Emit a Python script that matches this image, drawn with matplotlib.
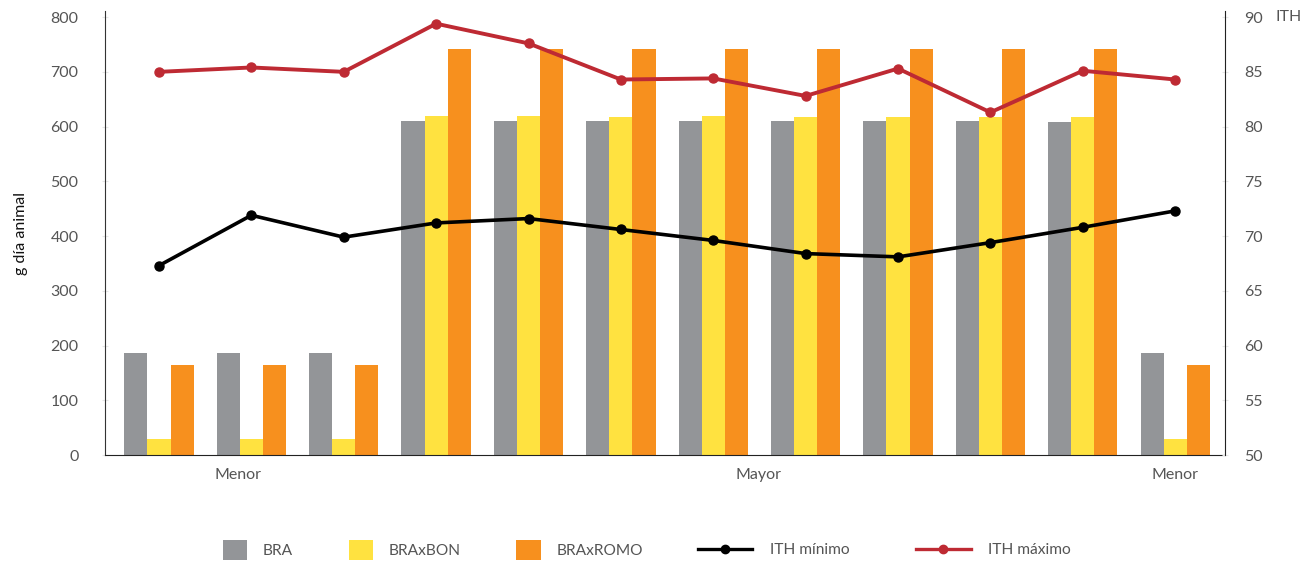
import numpy as np
import matplotlib
matplotlib.use("Agg")
import matplotlib.pyplot as plt
from matplotlib.patches import Rectangle
from matplotlib.lines import Line2D
from matplotlib.legend_handler import HandlerPatch

plt.rcParams['font.family'] = ['Lato', 'DejaVu Sans']

# data
bra = [186, 186, 186, 610, 610, 610, 610, 610, 610, 610, 608, 186]
bra_bon = [30, 30, 30, 619, 619, 617, 619, 617, 617, 617, 617, 30]
bra_romo = [165, 165, 165, 741, 741, 741, 741, 741, 741, 741, 741, 165]
ith_min = [67.3, 71.9, 69.9, 71.2, 71.6, 70.6, 69.6, 68.4, 68.1, 69.4, 70.8, 72.3]
ith_max = [85.0, 85.4, 85.0, 89.4, 87.6, 84.3, 84.4, 82.8, 85.3, 81.3, 85.1, 84.3]
xtick_pos = [0.86, 6.49, 11.0]
xtick_labels = ['Menor', 'Mayor', 'Menor']

c_bra = '#939598'
c_bon = '#FFE240'
c_romo = '#F7901E'
c_max = '#BE2A33'
c_min = '#000000'
txt = '#555555'

fig = plt.figure(figsize=(13.15, 5.63), dpi=100)
ax = fig.add_axes([0.0798, 0.1918, 0.8518, 0.7885])
ax2 = ax.twinx()

x = np.arange(len(bra))
w = 0.25
ax.bar(x - w, bra, w, color=c_bra, label='BRA')
ax.bar(x, bra_bon, w, color=c_bon, label='BRAxBON')
ax.bar(x + w, bra_romo, w, color=c_romo, label='BRAxROMO')

ax2.plot(x, ith_min, color=c_min, lw=2.6, marker='o', ms=6.5, label='ITH mínimo')
ax2.plot(x, ith_max, color=c_max, lw=2.8, marker='o', ms=6.5, label='ITH máximo')

ax.set_xlim(-0.585, 11.54)
ax.set_ylim(0, 811)
ax2.set_ylim(50, 90.55)
ax.set_yticks(range(0, 801, 100))
ax2.set_yticks(range(50, 91, 5))
ax.set_xticks(xtick_pos)
ax.set_xticklabels(xtick_labels)

for a in (ax, ax2):
    for s in a.spines.values():
        s.set_visible(False)
ax.spines['left'].set_visible(True)
ax.spines['bottom'].set_visible(True)
ax2.spines['right'].set_visible(True)
ax.spines['left'].set_color('#333333')
ax.spines['bottom'].set_color('#222222')
ax2.spines['right'].set_color('#222222')

ax.tick_params(axis='y', length=4, direction='inout', color='#e6e6e6', pad=17,
               labelsize=11.5, labelcolor=txt)
ax2.tick_params(axis='y', length=4, direction='inout', color='#e6e6e6', pad=12,
                labelsize=11.5, labelcolor=txt)
ax.tick_params(axis='x', length=0, pad=9, labelsize=11.5, labelcolor=txt)

ax.set_ylabel('g día animal', fontsize=11.5, color='#111111')
ax.yaxis.set_label_coords(-0.069, 0.5)
ax2.text(1.0 + 50 / 1120, 800 / 811, 'ITH', transform=ax2.transAxes,
         ha='left', va='center', fontsize=11.5, color=txt)


def square(legend, orig_handle, xdescent, ydescent, width, height, fontsize):
    return Rectangle((-xdescent, -ydescent), width, height)


bar_handles, bar_labels = ax.get_legend_handles_labels()
fig.legend(bar_handles, bar_labels, loc='center left',
           bbox_to_anchor=(223 / 1315, 1 - 550 / 563), ncol=3,
           frameon=False, fontsize=11.2, handlelength=1.55, handleheight=1.55,
           handletextpad=1.0, columnspacing=3.6, borderpad=0, borderaxespad=0,
           labelcolor=txt,
           handler_map={Rectangle: HandlerPatch(patch_func=square)})

line_handles = [Line2D([], [], color=c_min, lw=2.4, marker='o', ms=6),
                Line2D([], [], color=c_max, lw=2.4, marker='o', ms=6)]
fig.legend(line_handles, ['ITH mínimo', 'ITH máximo'], loc='center left',
           bbox_to_anchor=(698 / 1315, 1 - 550 / 563), ncol=2,
           frameon=False, fontsize=11.2, handlelength=3.5,
           handletextpad=1.1, columnspacing=4.3, borderpad=0, borderaxespad=0,
           labelcolor=txt)

fig.savefig('out.png', dpi=100)
